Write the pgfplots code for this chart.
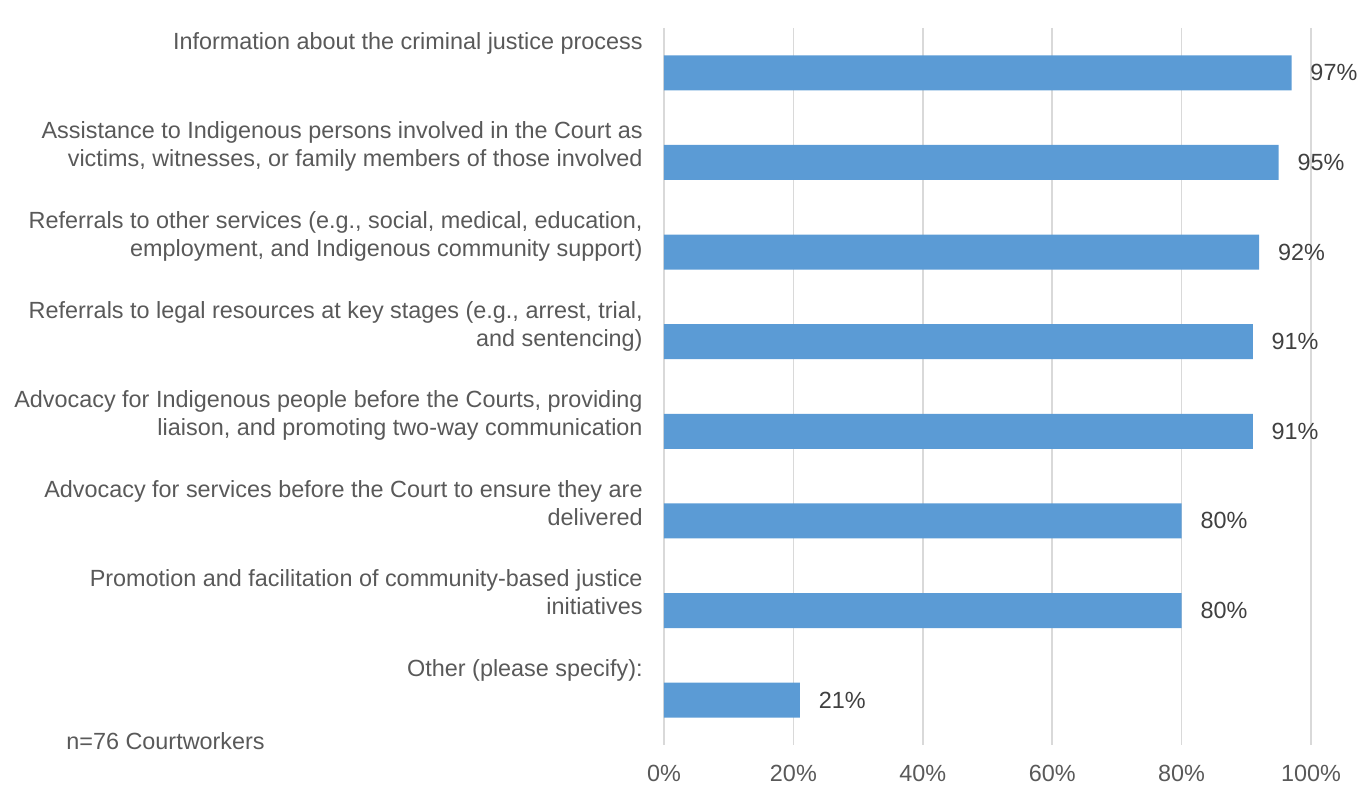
\documentclass[border=0pt]{standalone}
\usepackage{fontspec}
\setmainfont{Liberation Sans}
\usepackage{pgfplots}
\pgfplotsset{compat=1.18}
\definecolor{barblue}{HTML}{5B9BD5}
\definecolor{gridgray}{HTML}{D9D9D9}
\definecolor{labelgray}{HTML}{595959}
\definecolor{valgray}{HTML}{404040}

\begin{document}
\fontsize{11.7}{14}\selectfont
\begin{tikzpicture}
\useasboundingbox (0,0) rectangle (685.5pt,400.5pt);
\begin{axis}[
  at={(332pt,28pt)}, anchor=south west,
  scale only axis, width=323.5pt, height=358.5pt,
  xbar, bar width=17.5pt,
  xmin=0, xmax=100, ymin=-0.5, ymax=7.5,
  y dir=reverse,
  /pgf/number format/assume math mode=true,
  xtick={0,20,...,100},
  xticklabel={\pgfmathprintnumber{\tick}\%},
  ytick={0,...,7},
  yticklabels={
    {Information about the criminal justice process},
    {Assistance to Indigenous persons involved in the Court as\\victims, witnesses, or family members of those involved},
    {Referrals to other services (e.g., social, medical, education,\\employment, and Indigenous community support)},
    {Referrals to legal resources at key stages (e.g., arrest, trial,\\and sentencing)},
    {Advocacy for Indigenous people before the Courts, providing\\liaison, and promoting two-way communication},
    {Advocacy for services before the Court to ensure they are\\delivered},
    {Promotion and facilitation of community-based justice\\initiatives},
    {Other (please specify):}},
  axis line style={draw=none},
  major tick length=0pt,
  xmajorgrids, grid style={gridgray, line width=0.75pt},
  xticklabel style={anchor=north, inner sep=0pt, yshift=-10pt, text=labelgray},
  yticklabel style={anchor=north east, align=right, inner sep=0pt, xshift=-10.5pt, yshift=20.5pt, text=labelgray},
  point meta=x,
  nodes near coords={\pgfmathprintnumber{\pgfplotspointmeta}\%},
  nodes near coords style={anchor=west, inner sep=0pt, xshift=9.25pt, text=valgray},
]
\addplot[fill=barblue, draw=none] coordinates {(97,0) (95,1) (92,2) (91,3) (91,4) (80,5) (80,6) (21,7)};
\end{axis}
\node[anchor=base west, inner sep=0pt, text=labelgray] at (33pt,25.5pt) {n=76 Courtworkers};
\end{tikzpicture}
\end{document}
